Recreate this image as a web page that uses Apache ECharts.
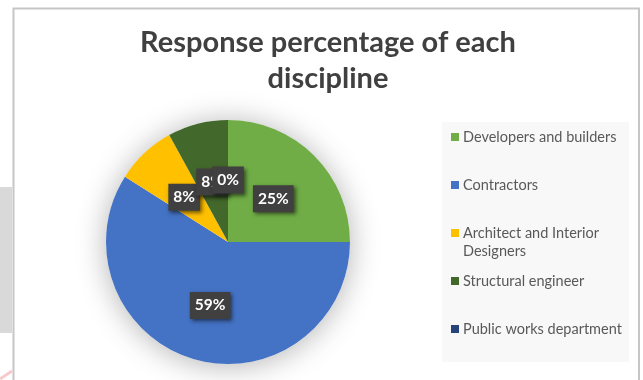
<!DOCTYPE html>
<html>
<head>
<meta charset="utf-8">
<script src="https://cdn.jsdelivr.net/npm/echarts@6/dist/echarts.min.js"></script>
<style>
  html, body { margin: 0; padding: 0; background: #ffffff; }
  #chart { width: 643px; height: 380px; }
</style>
</head>
<body>
<div id="chart"></div>
<script>
// Survey response share by discipline (percent)
const disciplines = [
  'Developers and builders',
  'Contractors',
  'Architect and Interior Designers',
  'Structural engineer',
  'Public works department'
];
const responsePercent = [25, 59, 8, 8, 0];
const sliceColors = ['#70ad47', '#4472c4', '#ffc000', '#43682b', '#264478'];
const chartTitle = 'Response percentage of each\ndiscipline';

const chart = echarts.init(document.getElementById('chart'), null, { renderer: 'canvas' });

const pieCenter = [228, 242];
const pieRadius = 122;

chart.setOption({
  backgroundColor: '#ffffff',
  animation: false,
  title: {
    text: chartTitle,
    left: 323,
    textAlign: 'center',
    top: 20,
    textStyle: {
      fontFamily: 'Lato',
      fontWeight: 'bold',
      fontSize: 29,
      lineHeight: 36,
      color: '#404040'
    }
  },
  legend: {
    orient: 'vertical',
    left: 442,
    top: 122,
    padding: [7, 7, 25, 9],
    backgroundColor: '#f8f8f8',
    itemWidth: 8,
    itemHeight: 8,
    itemGap: 32,
    icon: 'rect',
    selectedMode: false,
    data: disciplines,
    formatter: function (name) {
      return name === 'Architect and Interior Designers' ? 'Architect and Interior' : name;
    },
    textStyle: {
      fontFamily: 'Lato',
      fontSize: 14.5,
      lineHeight: 16,
      color: '#595959',
      padding: [0, 0, 0, -1]
    }
  },
  graphic: [
    // frame of the chart area
    {
      type: 'rect', silent: true, z: -10,
      shape: { x: 13.5, y: 8.5, width: 625.5, height: 400 },
      style: { fill: 'none', stroke: '#c6c6c6', lineWidth: 2 }
    },
    // page elements peeking in on the left margin
    {
      type: 'rect', silent: true, z: -10,
      shape: { x: 0, y: 187, width: 12, height: 146 },
      style: { fill: '#d9d9d9' }
    },
    {
      type: 'line', silent: true, z: -10,
      shape: { x1: 0, y1: 379, x2: 12, y2: 371 },
      style: { stroke: '#f7c9cd', lineWidth: 3 }
    },
    // second line of the wrapped legend entry
    {
      type: 'text', silent: true, z: 10,
      left: 463, top: 244,
      style: {
        text: 'Designers',
        fontFamily: 'Lato',
        fontSize: 14.5,
        fill: '#595959'
      }
    }
  ],
  series: [
    {
      // soft drop shadow under the pie
      type: 'pie',
      silent: true,
      z: 1,
      center: pieCenter,
      radius: pieRadius,
      label: { show: false },
      labelLine: { show: false },
      itemStyle: {
        color: '#ffffff',
        shadowBlur: 30,
        shadowColor: 'rgba(0,0,0,0.3)',
        shadowOffsetX: 0,
        shadowOffsetY: 2
      },
      data: [{ value: 1, name: '' }]
    },
    {
      type: 'pie',
      z: 2,
      center: pieCenter,
      radius: pieRadius,
      startAngle: 90,
      clockwise: true,
      minAngle: 0,
      stillShowZeroSum: true,
      avoidLabelOverlap: false,
      labelLayout: { hideOverlap: false },
      emphasis: { disabled: true },
      itemStyle: { borderWidth: 0 },
      label: {
        show: true,
        position: 'inside',
        formatter: '{c}%',
        fontFamily: 'Lato',
        fontWeight: 'bold',
        fontSize: 15.5,
        color: '#ffffff',
        backgroundColor: '#404040',
        padding: [6, 5, 5, 5],
        offset: [0, 2],
        shadowColor: 'rgba(0,0,0,0.55)',
        shadowBlur: 4,
        shadowOffsetX: 2,
        shadowOffsetY: 2
      },
      labelLine: { show: false },
      data: disciplines.map((name, i) => ({
        name: name,
        value: responsePercent[i],
        itemStyle: { color: sliceColors[i] }
      }))
    }
  ]
});
</script>
</body>
</html>
